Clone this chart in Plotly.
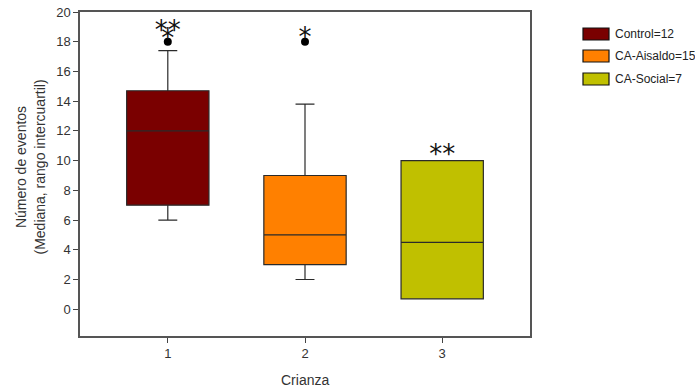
import plotly.graph_objects as go

groups = ["Control=12", "CA-Aisaldo=15", "CA-Social=7"]
positions = [1, 2, 3]
q1 = [7.0, 3.0, 0.7]
median = [12.0, 5.0, 4.5]
q3 = [14.7, 9.0, 10.0]
lower = [6.0, 2.0, 0.7]
upper = [17.4, 13.8, 10.0]
colors = ["#7A0000", "#FF8000", "#C0C000"]

outlier_x = [1, 2]
outlier_y = [18.0, 18.0]

star_x = [1, 1, 2, 3]
star_y = [18.62, 18.08, 18.15, 10.25]
star_text = ["**", "*", "*", "**"]

# layout geometry (figure pixels)
W, H = 695, 391
ML, MR, MT, MB = 80, 165, 12, 55
PW, PH = W - ML - MR, H - MT - MB

def px_x(x):
    return (x - ML) / PW

def px_y(y):
    return (H - MB - y) / PH

fig = go.Figure()
for i in range(3):
    fig.add_trace(go.Box(
        x=[positions[i]], q1=[q1[i]], median=[median[i]], q3=[q3[i]],
        lowerfence=[lower[i]], upperfence=[upper[i]],
        name=groups[i], fillcolor=colors[i],
        line=dict(color="#2a2a2a", width=1.2),
        width=0.6, whiskerwidth=0.23, boxpoints=False, showlegend=False,
    ))

fig.add_trace(go.Scatter(
    x=outlier_x, y=outlier_y, mode="markers",
    marker=dict(color="black", size=8), showlegend=False, hoverinfo="skip",
))
fig.add_trace(go.Scatter(
    x=star_x, y=star_y, mode="text", text=star_text,
    textfont=dict(family="DejaVu Sans", size=26, color="#111111"),
    textposition="middle center", showlegend=False, hoverinfo="skip",
))

# manual legend
shapes = []
annotations = []
leg_tops = [28, 50, 73]
for i in range(3):
    y0, y1 = leg_tops[i], leg_tops[i] + 12
    shapes.append(dict(
        type="rect", xref="paper", yref="paper",
        x0=px_x(583), x1=px_x(609), y0=px_y(y1), y1=px_y(y0),
        fillcolor=colors[i], line=dict(color="#111111", width=1.2),
    ))
    annotations.append(dict(
        xref="paper", yref="paper", x=px_x(613), y=px_y((y0 + y1) / 2),
        xanchor="left", yanchor="middle", showarrow=False, text=groups[i],
        font=dict(family="Liberation Sans, Arial", size=12, color="#222222"),
    ))

# axis titles
annotations.append(dict(
    xref="paper", yref="paper", x=0.5, y=px_y(380), xanchor="center",
    yanchor="middle", showarrow=False, text="Crianza",
    font=dict(size=14, color="#333333"),
))
annotations.append(dict(
    xref="paper", yref="paper", x=px_x(30), y=0.52, xanchor="center",
    yanchor="middle", showarrow=False, textangle=-90,
    text="Número de eventos<br>(Mediana, rango intercuartil)",
    font=dict(size=14, color="#333333"),
))

fig.update_layout(
    width=W, height=H,
    margin=dict(l=ML, r=MR, t=MT, b=MB),
    paper_bgcolor="white", plot_bgcolor="white",
    font=dict(family="Liberation Sans, Arial", size=12, color="#333333"),
    boxmode="overlay", showlegend=False,
    shapes=shapes, annotations=annotations,
    xaxis=dict(
        range=[0.36, 3.64], tickvals=positions, ticktext=["1", "2", "3"],
        ticks="outside", ticklen=5, tickcolor="#444444",
        showline=True, linecolor="#555555", linewidth=1.5, mirror=True,
        showgrid=False, zeroline=False, automargin=False,
        tickfont=dict(size=13),
    ),
    yaxis=dict(
        range=[-1.8, 20], tickvals=list(range(0, 21, 2)),
        ticks="outside", ticklen=5, tickcolor="#444444",
        showline=True, linecolor="#555555", linewidth=1.5, mirror=True,
        showgrid=False, zeroline=False, automargin=False,
        tickfont=dict(size=13),
    ),
)

fig.write_html("out.html",
               config={"displayModeBar": False},
               post_script="document.body.style.margin='0';"
                           "document.body.style.overflow='hidden';")
